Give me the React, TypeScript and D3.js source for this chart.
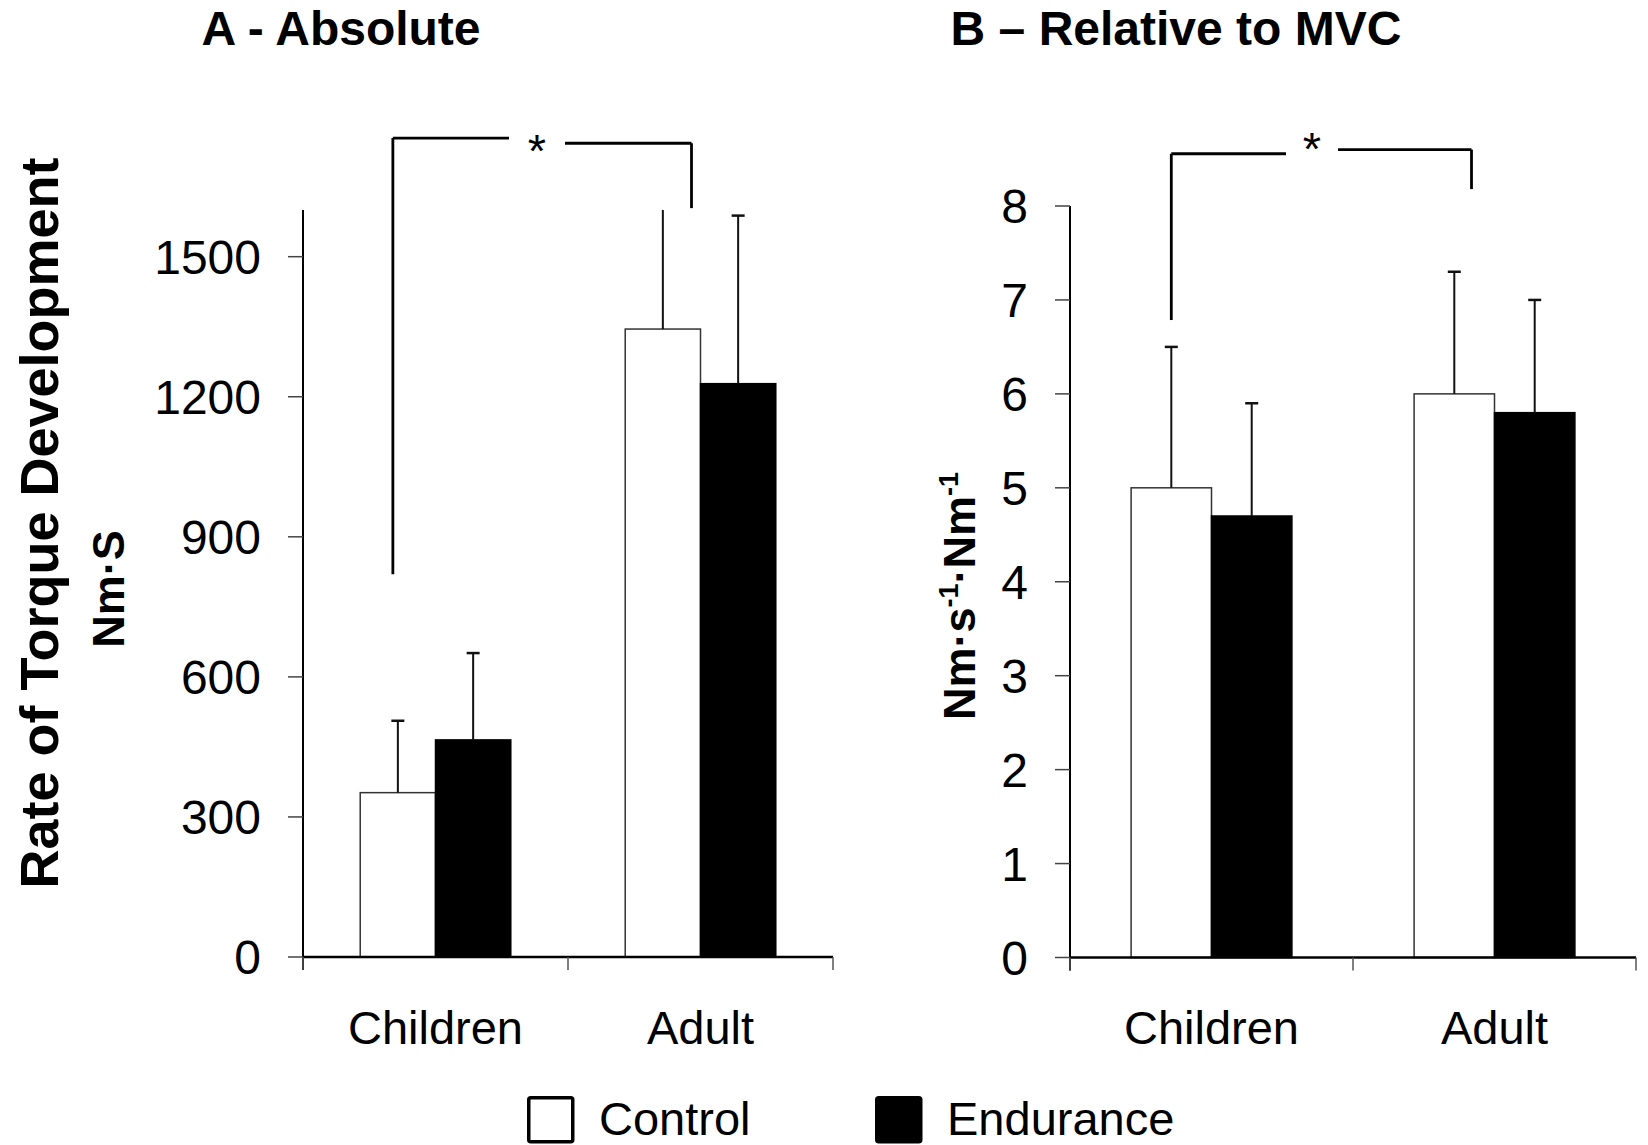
import * as React from "react"
import * as d3 from "d3"

const categories = ["Children", "Adult"]
const series = ["Control", "Endurance"]

// A - absolute, Nm·S
const absControl = [352, 1345]
const absEndurance = [465, 1228]
const absControlErr = [154, 280]
const absEnduranceErr = [186, 360]
const absTicks = [0, 300, 600, 900, 1200, 1500]

// B - relative to MVC
const relControl = [5.0, 6.0]
const relEndurance = [4.7, 5.8]
const relControlErr = [1.5, 1.3]
const relEnduranceErr = [1.2, 1.2]
const relTicks = [0, 1, 2, 3, 4, 5, 6, 7, 8]

const font = "'Liberation Sans', Arial, sans-serif"

function Panel(props) {
    const { left, right, top, bottom, yMax, ticks, means, errs, title, titleX, bracket } = props

    const x0 = d3.scaleBand().domain(categories).range([left, right])
    const x1 = d3.scaleBand().domain(series).range([0, x0.bandwidth()]).paddingOuter(0.76)
    const y = d3.scaleLinear().domain([0, yMax]).range([bottom, top])

    const center = (cat, s) => x0(cat) + x1(s) + x1.bandwidth() / 2
    const mid = (cat) => x0(cat) + x0.bandwidth() / 2

    const b = bracket
    const lx = center(b.from, "Control") + b.fromOff
    const rx = mid(b.to) + b.toOff

    return (
        <g>
            <text x={titleX} y={45} textAnchor="middle" fontSize={48} fontWeight="bold" fontFamily={font}>{title}</text>

            {/* bars */}
            {series.map((s, si) => categories.map((cat, ci) => {
                const v = means[si][ci]
                const bx = x0(cat) + x1(s)
                return (
                    <rect key={s + cat} x={bx} y={y(v)} width={x1.bandwidth()} height={y(0) - y(v)}
                        fill={si === 0 ? "#fff" : "#000"} stroke={si === 0 ? "#333" : "#000"} strokeWidth={1.5} />
                )
            }))}

            {/* error bars, clipped at the top of the axis */}
            {series.map((s, si) => categories.map((cat, ci) => {
                const v = means[si][ci]
                const hi = v + errs[si][ci]
                const cx = center(cat, s)
                const clipped = hi > yMax
                return (
                    <g key={"e" + s + cat} stroke="#111" strokeWidth={2}>
                        <line x1={cx} x2={cx} y1={y(v)} y2={y(Math.min(hi, yMax))} />
                        {!clipped && <line x1={cx - 6.5} x2={cx + 6.5} y1={y(hi)} y2={y(hi)} strokeWidth={2.5} />}
                    </g>
                )
            }))}

            {/* y axis */}
            <line x1={left} x2={left} y1={y(yMax)} y2={bottom + 13} stroke="#000" strokeWidth={2} />
            {ticks.map((t) => (
                <g key={t}>
                    <line x1={left - 15} x2={left} y1={y(t)} y2={y(t)} stroke="#444" strokeWidth={1.5} />
                    <text x={left - 42} y={y(t) + 17} textAnchor="end" fontSize={48} fontFamily={font}>{t}</text>
                </g>
            ))}

            {/* x axis */}
            <line x1={left} x2={right} y1={bottom} y2={bottom} stroke="#000" strokeWidth={2.5} />
            {[...categories.map((c) => x0(c)), right].map((tx, i) => (
                <line key={i} x1={tx} x2={tx} y1={bottom} y2={bottom + 13} stroke="#555" strokeWidth={1.5} />
            ))}
            {categories.map((c) => (
                <text key={c} x={mid(c)} y={1044} textAnchor="middle" fontSize={47} fontFamily={font}>{c}</text>
            ))}

            {/* significance bracket */}
            <g stroke="#000" strokeWidth={2.8} fill="none">
                <line x1={lx} x2={lx} y1={y(b.leftTop)} y2={y(b.leftBottom)} />
                <line x1={lx} x2={b.starX - b.gap} y1={y(b.leftTop)} y2={y(b.leftTop)} />
                <line x1={b.starX + b.gap} x2={rx} y1={y(b.rightTop)} y2={y(b.rightTop)} />
                <line x1={rx} x2={rx} y1={y(b.rightTop)} y2={y(b.rightBottom)} />
            </g>
            <text x={b.starX} y={y(b.starY) + 27} textAnchor="middle" fontSize={47} fontFamily={font}>*</text>
        </g>
    )
}

function App() {
    const width = 1648
    const height = 1145

    return (
        <svg width={width} height={height} style={{ position: "absolute", left: 0, top: 0, background: "#fff" }}>
            <Panel left={303} right={833} top={210} bottom={957} yMax={1600} ticks={absTicks}
                means={[absControl, absEndurance]} errs={[absControlErr, absEnduranceErr]}
                title="A - Absolute" titleX={341}
                bracket={{ from: "Children", fromOff: -5, to: "Adult", toOff: -9, leftTop: 1754, leftBottom: 820,
                    rightTop: 1743, rightBottom: 1604, starX: 537, starY: 1750, gap: 28 }} />
            <Panel left={1070} right={1636} top={206} bottom={957.5} yMax={8} ticks={relTicks}
                means={[relControl, relEndurance]} errs={[relControlErr, relEnduranceErr]}
                title="B – Relative to MVC" titleX={1176}
                bracket={{ from: "Children", fromOff: 0, to: "Adult", toOff: -23, leftTop: 8.556, leftBottom: 6.786,
                    rightTop: 8.6, rightBottom: 8.18, starX: 1312, starY: 8.72, gap: 26 }} />

            {/* y axis titles */}
            <text transform="translate(58,523) rotate(-90)" textAnchor="middle" fontSize={54} fontWeight="bold" fontFamily={font}>
                Rate of Torque Development
            </text>
            <text transform="translate(124,589) rotate(-90)" textAnchor="middle" fontSize={45} fontWeight="bold" fontFamily={font}>
                Nm·S
            </text>
            <text transform="translate(975,596) rotate(-90)" textAnchor="middle" fontSize={45} fontWeight="bold" fontFamily={font}>
                Nm·s<tspan dy={-17} fontSize={27}>-1</tspan><tspan dy={17}>·Nm</tspan><tspan dy={-17} fontSize={27}>-1</tspan>
            </text>

            {/* legend */}
            {series.map((s, i) => {
                const lxs = [527, 875]
                return (
                    <g key={s}>
                        <rect x={lxs[i] + 1.75} y={1097.75} width={44} height={44} rx={2}
                            fill={i === 0 ? "#fff" : "#000"} stroke="#000" strokeWidth={3.5} />
                        <text x={lxs[i] + 72} y={1135} fontSize={47} fontFamily={font}>{s}</text>
                    </g>
                )
            })}
        </svg>
    )
}

export default App
